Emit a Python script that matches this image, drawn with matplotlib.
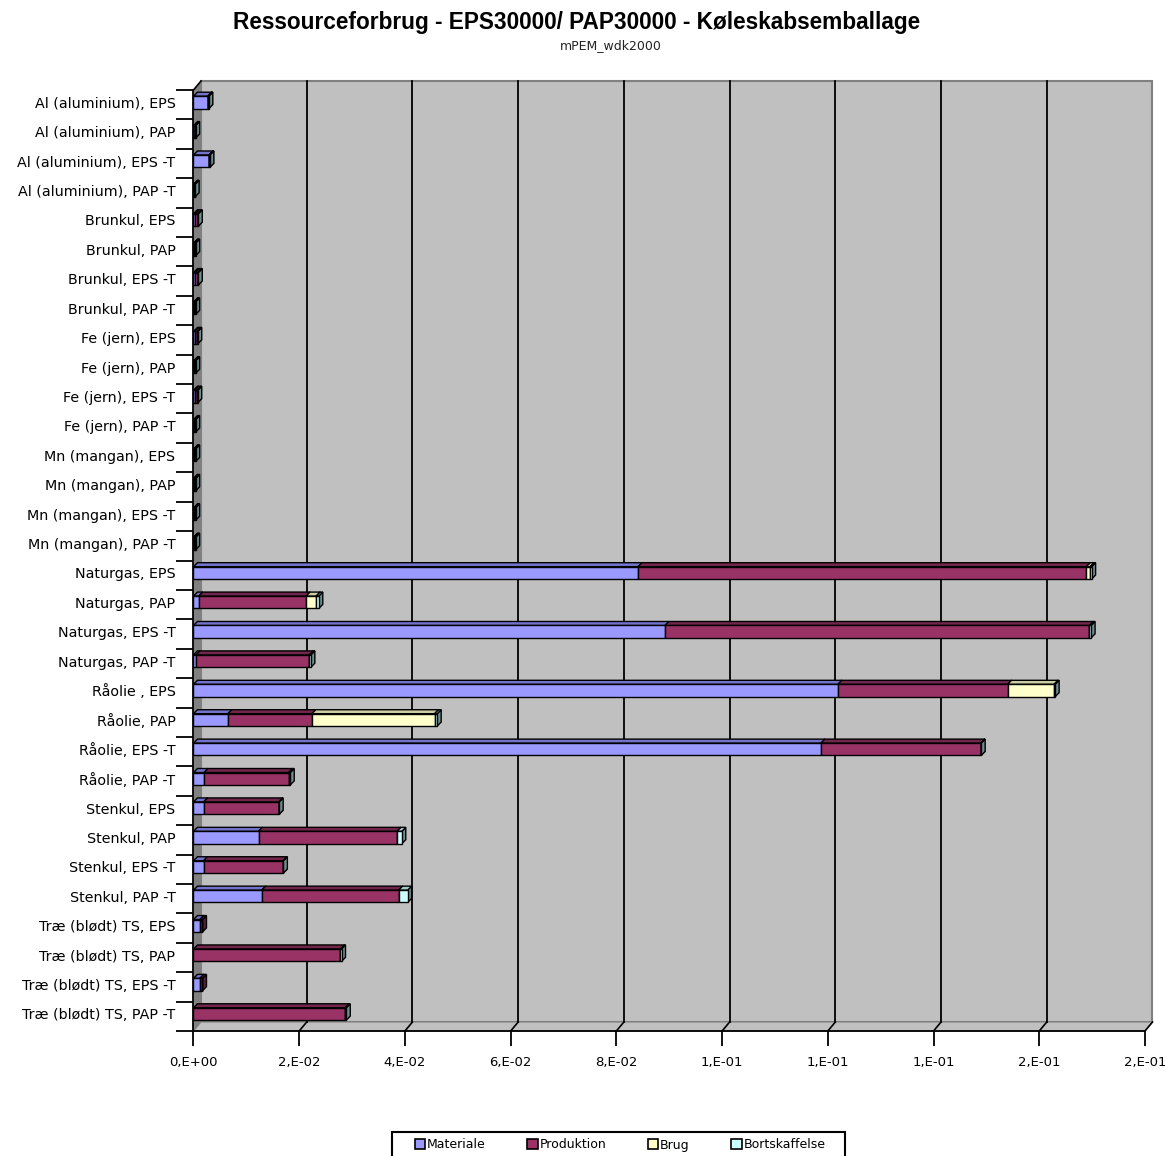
import numpy as np
import matplotlib
matplotlib.use("Agg")
import matplotlib.pyplot as plt
from matplotlib.patches import Polygon, Rectangle

# ---------------- data ----------------
categories = [
    "Al (aluminium), EPS", "Al (aluminium), PAP", "Al (aluminium), EPS -T", "Al (aluminium), PAP -T",
    "Brunkul, EPS", "Brunkul, PAP", "Brunkul, EPS -T", "Brunkul, PAP -T",
    "Fe (jern), EPS", "Fe (jern), PAP", "Fe (jern), EPS -T", "Fe (jern), PAP -T",
    "Mn (mangan), EPS", "Mn (mangan), PAP", "Mn (mangan), EPS -T", "Mn (mangan), PAP -T",
    "Naturgas, EPS", "Naturgas, PAP", "Naturgas, EPS -T", "Naturgas, PAP -T",
    "Råolie , EPS", "Råolie, PAP", "Råolie, EPS -T", "Råolie, PAP -T",
    "Stenkul, EPS", "Stenkul, PAP", "Stenkul, EPS -T", "Stenkul, PAP -T",
    "Træ (blødt) TS, EPS", "Træ (blødt) TS, PAP", "Træ (blødt) TS, EPS -T", "Træ (blødt) TS, PAP -T",
]
materiale = [0.0027, 0.0002, 0.0029, 0.0001,
             0.0003, 0.0001, 0.0003, 0.0001,
             0.0002, 0.0001, 0.0002, 0.0001,
             0.0001, 0.0001, 0.0001, 0.0001,
             0.0841, 0.0010, 0.0892, 0.0005,
             0.1219, 0.0065, 0.1187, 0.0020,
             0.0019, 0.0123, 0.0019, 0.0129,
             0.0012, 0.0000, 0.0012, 0.0000]
produktion = [0.0001, 0.0001, 0.0001, 0.0001,
              0.0005, 0.0002, 0.0005, 0.0002,
              0.0005, 0.0002, 0.0005, 0.0002,
              0.0002, 0.0002, 0.0002, 0.0002,
              0.0848, 0.0203, 0.0803, 0.0214,
              0.0321, 0.0159, 0.0302, 0.0160,
              0.0142, 0.0262, 0.0150, 0.0259,
              0.0005, 0.0278, 0.0005, 0.0287]
brug = [0.0, 0.0, 0.0, 0.0,
        0.0, 0.0, 0.0, 0.0,
        0.0, 0.0, 0.0, 0.0,
        0.0, 0.0, 0.0, 0.0,
        0.0007, 0.0019, 0.0, 0.0,
        0.0088, 0.0232, 0.0, 0.0,
        0.0, 0.0, 0.0, 0.0,
        0.0, 0.0, 0.0, 0.0]
bortskaffelse = [0.0001, 0.0001, 0.0001, 0.0001,
                 0.0001, 0.0001, 0.0001, 0.0001,
                 0.0001, 0.0001, 0.0001, 0.0001,
                 0.0001, 0.0001, 0.0001, 0.0001,
                 0.0003, 0.0005, 0.0003, 0.0003,
                 0.0002, 0.0005, 0.0001, 0.0003,
                 0.0001, 0.0009, 0.0001, 0.0017,
                 0.0, 0.0002, 0.0, 0.0002]
series_names = ["Materiale", "Produktion", "Brug", "Bortskaffelse"]
x_ticks = [0.0, 0.02, 0.04, 0.06, 0.08, 0.10, 0.12, 0.14, 0.16, 0.18]
x_tick_labels = ["0,E+00", "2,E-02", "4,E-02", "6,E-02", "8,E-02",
                 "1,E-01", "1,E-01", "1,E-01", "2,E-01", "2,E-01"]
title = "Ressourceforbrug - EPS30000/ PAP30000 - Køleskabsemballage"
subtitle = "mPEM_wdk2000"

# ---------------- style ----------------
front_colors = ["#9999FF", "#993366", "#FFFFCC", "#CCFFFF"]
top_colors = ["#7373CC", "#73264C", "#CCCCA3", "#A3CCCC"]
side_colors = ["#5C5C99", "#5C1F3D", "#99997A", "#6E8F8F"]

W, H = 1165, 1156
left_px, right_px, top_px, bottom_px = 193.5, 1145, 90, 1031

fig = plt.figure(figsize=(W / 100, H / 100), dpi=100)
ax = fig.add_axes([left_px / W, 1 - bottom_px / H,
                   (right_px - left_px) / W, (bottom_px - top_px) / H])
n = len(categories)
xmax = x_ticks[-1]
ax.set_xlim(0, xmax)
ax.set_ylim(n - 0.5, -0.5)
ax.patch.set_visible(False)

px_x = xmax / (right_px - left_px)
px_y = n / (bottom_px - top_px)
wdx, wdy = 7.5 * px_x, 9 * px_y     # wall depth
bdx, bdy = 4 * px_x, 4 * px_y       # bar depth
bar_h = 0.42
yoff = -0.08

y_lo, y_hi = n - 0.5, -0.5  # bottom, top (data)

# back wall
ax.add_patch(Polygon([(wdx, y_lo - wdy), (xmax + wdx, y_lo - wdy),
                      (xmax + wdx, y_hi - wdy), (wdx, y_hi - wdy)],
                     closed=True, facecolor="#C0C0C0", edgecolor="#808080",
                     lw=1.5, zorder=0.5, clip_on=False))
# left wall
ax.add_patch(Polygon([(0, y_lo), (0, y_hi), (wdx, y_hi - wdy), (wdx, y_lo - wdy)],
                     closed=True, facecolor="#808080", edgecolor="#808080",
                     lw=0.5, zorder=0.6, clip_on=False))
# floor
ax.add_patch(Polygon([(0, y_lo), (xmax, y_lo), (xmax + wdx, y_lo - wdy), (wdx, y_lo - wdy)],
                     closed=True, facecolor="#C0C0C0", edgecolor="#808080",
                     lw=0.8, zorder=0.6, clip_on=False))
# top-left slanted edge
ax.plot([0, wdx], [y_hi, y_hi - wdy], color="black", lw=1.2, zorder=2.6, clip_on=False)

# gridlines on back wall and floor
for t in x_ticks[1:]:
    col = "black" if t < xmax else "#808080"
    ax.plot([t + wdx, t + wdx], [y_lo - wdy, y_hi - wdy], color=col, lw=1.3,
            zorder=1, clip_on=False)
    ax.plot([t, t + wdx], [y_lo, y_lo - wdy], color="black", lw=1.2,
            zorder=1, clip_on=False)

# bars
ypos = np.arange(n) + yoff
series = [materiale, produktion, brug, bortskaffelse]
cum = np.zeros(n)
for j, vals in enumerate(series):
    vals = np.array(vals, dtype=float)
    z = 3 + j
    for i in range(n):
        w = vals[i]
        if w <= 0:
            continue
        l = cum[i]
        yt = ypos[i] - bar_h / 2
        yb = ypos[i] + bar_h / 2
        ax.add_patch(Polygon([(l + w, yb), (l + w, yt), (l + w + bdx, yt - bdy), (l + w + bdx, yb - bdy)],
                             closed=True, facecolor=side_colors[j], edgecolor="black",
                             lw=1.0, zorder=z, clip_on=False))
        ax.add_patch(Polygon([(l, yt), (l + w, yt), (l + w + bdx, yt - bdy), (l + bdx, yt - bdy)],
                             closed=True, facecolor=top_colors[j], edgecolor="black",
                             lw=1.0, zorder=z, clip_on=False))
    ax.barh(ypos, vals, height=bar_h, left=cum, color=front_colors[j],
            edgecolor="black", linewidth=1.0, zorder=z + 0.5)
    cum = cum + vals

# axes / ticks
for s in ["top", "right"]:
    ax.spines[s].set_visible(False)
ax.spines["left"].set_linewidth(1.3)
ax.spines["bottom"].set_linewidth(1.3)
ax.spines["left"].set_zorder(2.5)
ax.spines["bottom"].set_zorder(2.5)

ax.set_xticks(x_ticks)
ax.set_xticklabels(x_tick_labels, fontsize=9.5, family="DejaVu Sans")
ax.tick_params(axis="x", direction="out", length=11, width=1.3, pad=7)

ax.set_yticks(ypos)
ax.set_yticklabels(categories, fontsize=10.3, family="DejaVu Sans")
ax.set_yticks(np.arange(n + 1) - 0.5, minor=True)
ax.tick_params(axis="y", which="major", length=0, pad=13)
ax.tick_params(axis="y", which="minor", direction="out", length=12, width=1.3)

# titles
fig.text(577 / W, 1 - 22 / H, title, ha="center", va="center",
         fontsize=16.3, fontweight="bold", family="Liberation Sans")
fig.text(610.5 / W, 1 - 46 / H, subtitle, ha="center", va="center",
         fontsize=9, family="DejaVu Sans", color="#222222")

# legend
handles = [Rectangle((0, 0), 1, 1, facecolor=c, edgecolor="black", lw=1.2) for c in front_colors]
fig.legend(handles, series_names, loc="center", bbox_to_anchor=(620 / W, 1 - 1145 / H),
           ncol=4, frameon=False, prop={"size": 9, "family": "DejaVu Sans"},
           handlelength=0.85, handleheight=0.85, handletextpad=0.15,
           columnspacing=3.3, borderpad=0.0)
fig.add_artist(Rectangle((392 / W, -0.02), (845 - 392) / W, (1 - 1132 / H) + 0.02,
                         transform=fig.transFigure, fill=False, edgecolor="black", lw=1.5))

fig.savefig("out.png", dpi=100)
